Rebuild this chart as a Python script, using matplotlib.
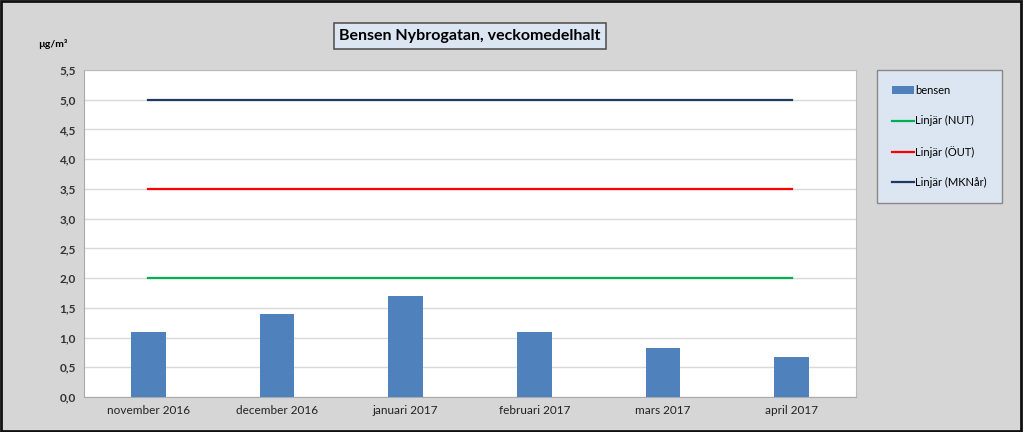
import matplotlib
matplotlib.use("Agg")
import matplotlib.pyplot as plt
from matplotlib.patches import Rectangle

plt.rcParams['font.family'] = ['Lato', 'DejaVu Sans']

months = ["november 2016", "december 2016", "januari 2017", "februari 2017", "mars 2017", "april 2017"]
bensen = [1.1, 1.4, 1.7, 1.1, 0.83, 0.68]
nut = [2.0] * 6
out = [3.5] * 6
mkn = [5.0] * 6
yticks = [0.0, 0.5, 1.0, 1.5, 2.0, 2.5, 3.0, 3.5, 4.0, 4.5, 5.0, 5.5]
ylabels = [f"{v:.1f}".replace(".", ",") for v in yticks]

fig = plt.figure(figsize=(10.23, 4.32), dpi=100)
fig.patch.set_facecolor("#d6d6d6")
fig.patches.append(Rectangle((0.001, 0.002), 0.997, 0.995, transform=fig.transFigure,
                             fill=False, edgecolor="#111111", linewidth=2))

ax = fig.add_axes([84/1023, 35/432, 772/1023, 327/432])
ax.set_facecolor("white")
x = list(range(len(months)))
ax.bar(x, bensen, width=0.27, color="#4f81bd", label="bensen", zorder=3)
ax.plot(x, nut, color="#00b050", lw=1.6, label="Linjär (NUT)", zorder=4)
ax.plot(x, out, color="#ff0000", lw=1.6, label="Linjär (ÖUT)", zorder=4)
ax.plot(x, mkn, color="#1f3864", lw=1.6, label="Linjär (MKNår)", zorder=4)
ax.set_xlim(-0.5, 5.5)
ax.set_ylim(0, 5.5)
ax.set_yticks(yticks)
ax.set_yticklabels(ylabels, fontsize=8.5, fontweight="bold", color="#333333")
ax.set_xticks(x)
ax.set_xticklabels(months, fontsize=8.5, color="#222222")
ax.tick_params(axis="both", length=0, pad=6)
ax.grid(axis="y", color="#d9d9d9", lw=1, zorder=0)
for s in ["top", "right"]:
    ax.spines[s].set_color("#bbbbbb")
for s in ["left", "bottom"]:
    ax.spines[s].set_color("#aaaaaa")

fig.text(38/1023, 1 - 44/432, "µg/m³", fontsize=7.5, fontweight="bold", ha="left", va="center")
fig.text(470/1023, 1 - 36/432, "Bensen Nybrogatan, veckomedelhalt", fontsize=11.5, fontweight="bold",
         ha="center", va="center",
         bbox=dict(boxstyle="square,pad=0.35", facecolor="#dce6f2", edgecolor="#555555", linewidth=1.2))

h, l = ax.get_legend_handles_labels()
order = [3, 0, 1, 2]
leg = fig.legend([h[i] for i in order], [l[i] for i in order],
                 loc="upper left", bbox_to_anchor=(877/1023, 1 - 70/432),
                 frameon=True, fontsize=8, labelspacing=1.75, handlelength=2.0,
                 handletextpad=0.1, borderpad=1.35, borderaxespad=0, fancybox=False)
leg.get_frame().set_facecolor("#dce6f2")
leg.get_frame().set_edgecolor("#888888")
leg.get_frame().set_alpha(1)

fig.savefig("out.png", dpi=100, facecolor=fig.get_facecolor())
